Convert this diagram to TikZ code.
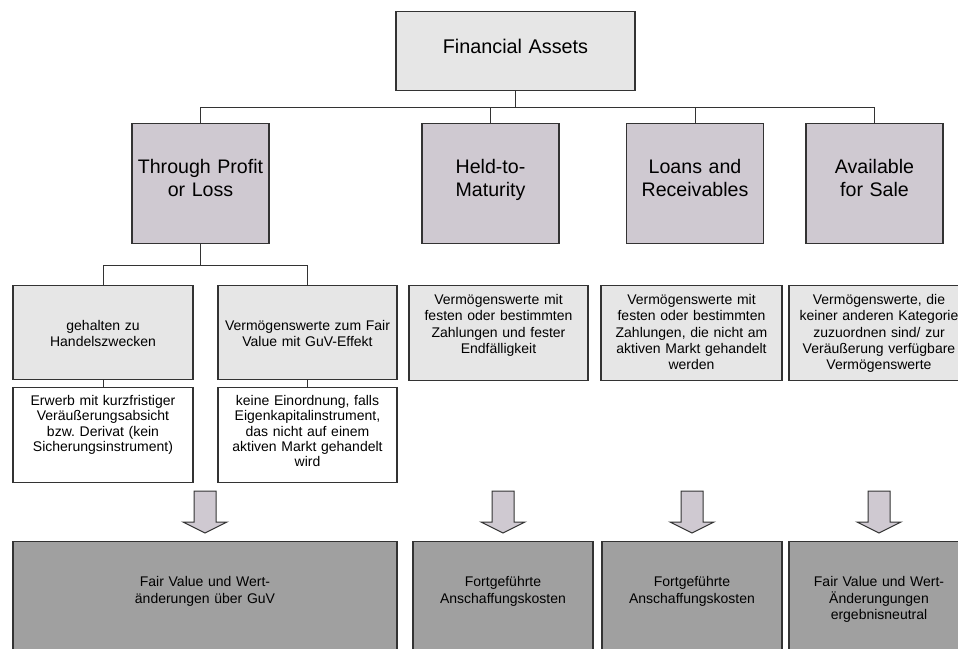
\documentclass[tikz,border=0pt]{standalone}
\usepackage{fontspec}
\setmainfont{Liberation Sans}
\frenchspacing
\definecolor{framegray}{RGB}{51,51,51}
\definecolor{palegray}{RGB}{230,230,230}
\definecolor{lilacgray}{RGB}{207,201,209}
\definecolor{resultgray}{RGB}{160,160,160}

\begin{document}
\begin{tikzpicture}[x=1pt,y=-1pt,
  box/.style={draw=framegray,line width=1.2pt,inner xsep=0pt,inner ysep=0pt,anchor=north,align=center},
  root/.style={box,fill=palegray,text width=239pt,text height=42pt,text depth=37pt,font=\fontsize{19.8}{23}\selectfont},
  category/.style={box,fill=lilacgray,text width=137pt,text height=50pt,text depth=70pt,font=\fontsize{19.6}{23}\selectfont},
  sub/.style={box,fill=palegray,text width=180pt,text height=45pt,text depth=49pt,font=\fontsize{14}{15.5}\selectfont},
  note/.style={box,fill=white,text width=180pt,text height=18pt,text depth=77pt,font=\fontsize{14}{15.3}\selectfont},
  criterion/.style={box,fill=palegray,text width=180pt,text height=19pt,text depth=76pt,font=\fontsize{14}{16.3}\selectfont},
  result/.style={box,fill=resultgray,text width=180pt,text height=45pt,text depth=75pt,font=\fontsize{14}{16.5}\selectfont},
  link/.style={draw=framegray,line width=1pt},
  blockarrow/.pic={\draw[framegray,fill=lilacgray,line width=1pt] (-11,0) -- (-11,31) -- (-22,31) -- (0,42) -- (22,31) -- (11,31) -- (11,0) -- cycle;}]

\useasboundingbox (0,0) rectangle (958,648);
\clip (0,0) rectangle (958,648);

\node[root]     (fa)  at (515.5,11) {Financial Assets};
\node[category] (tpl) at (200.5,123) {Through Profit\\or Loss};
\node[category] (htm) at (490.5,123) {Held-to-\\Maturity};
\node[category] (lr)  at (695,123)   {Loans and\\Receivables};
\node[category] (afs) at (874.5,123) {Available\\for Sale};

\node[sub]                  (trade)      at (103,285)   {gehalten zu\\Handelszwecken};
\node[sub,text width=179pt] (option)     at (307.5,285) {Vermögenswerte zum Fair\\Value mit GuV-Effekt};
\node[note]                 (tradenote)  at (103,387)   {Erwerb mit kurzfristiger\\Veräußerungsabsicht\\bzw. Derivat (kein\\Sicherungsinstrument)};
\node[note,text width=179pt] (optionnote) at (307.5,387) {keine Einordnung, falls\\Eigenkapitalinstrument,\\das nicht auf einem\\aktiven Markt gehandelt\\wird};

\node[criterion,text width=179pt] (htmtext) at (498.5,285) {Vermögenswerte mit\\festen oder bestimmten\\Zahlungen und fester\\Endfälligkeit};
\node[criterion,text width=181pt] (lrtext)  at (691.5,285) {Vermögenswerte mit\\festen oder bestimmten\\Zahlungen, die nicht am\\aktiven Markt gehandelt\\werden};
\node[criterion]                  (afstext) at (879,285)   {Vermögenswerte, die\\keiner anderen Kategorie\\zuzuordnen sind/ zur\\Veräußerung verfügbare\\Vermögenswerte};

\node[result,text width=384pt] (tplres) at (205,541) {Fair Value und Wert-\\änderungen über GuV};
\node[result] (htmres) at (503,541) {Fortgeführte\\Anschaffungskosten};
\node[result] (lrres)  at (692,541) {Fortgeführte\\Anschaffungskosten};
\node[result] (afsres) at (879,541) {Fair Value und Wert-\\Änderungungen\\ergebnisneutral};

\draw[link] (fa.south) -- ++(0,16) coordinate (hub)
  (hub) -| (tpl.north) (hub) -| (htm.north) (hub) -| (lr.north) (hub) -| (afs.north);
\draw[link] (tpl.south) -- ++(0,21) coordinate (fork)
  (fork) -| (trade.north) (fork) -| (option.north);
\draw[link] (trade.south) -- (tradenote.north) (option.south) -- (optionnote.north);

\foreach \r in {tplres,htmres,lrres,afsres}
  \pic at ([yshift=50pt]\r.north) {blockarrow};
\end{tikzpicture}
\end{document}
